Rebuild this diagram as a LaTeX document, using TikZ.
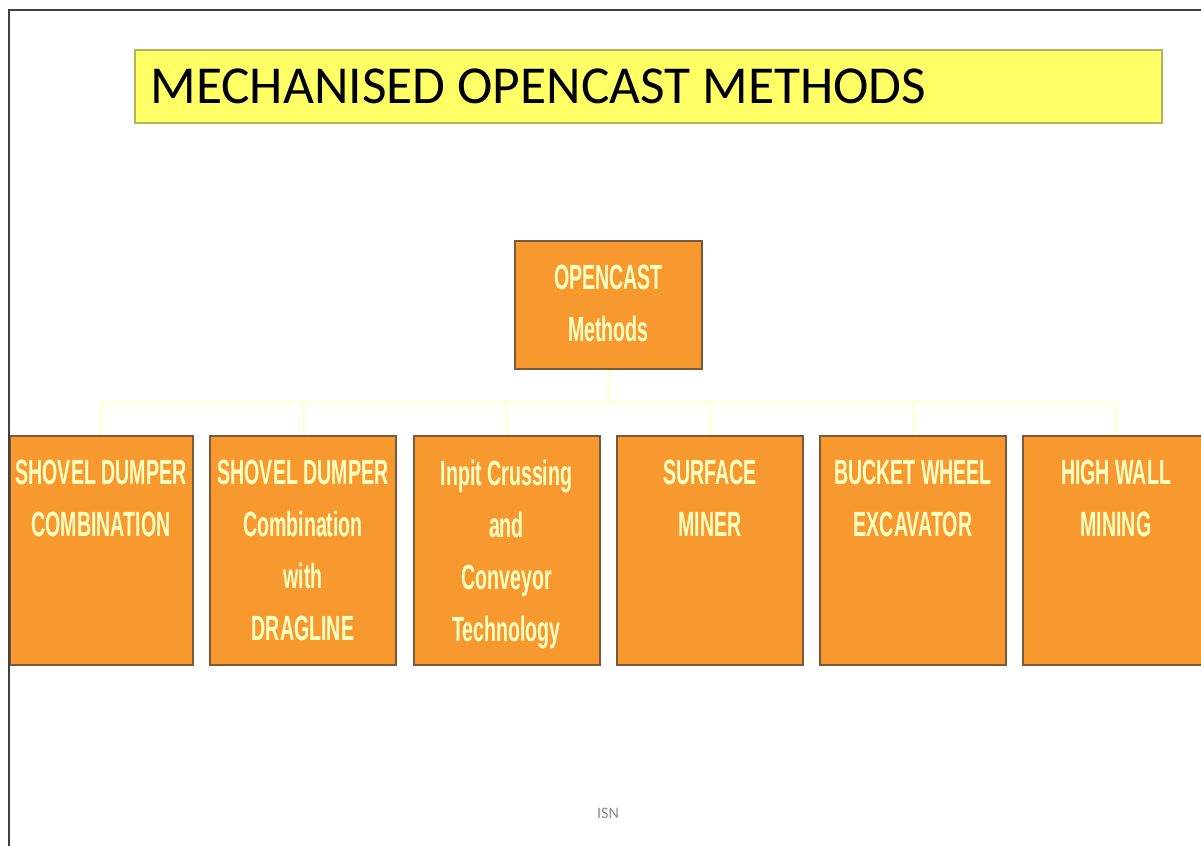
\documentclass[tikz,border=0pt]{standalone}
\usepackage{fontspec}
\setmainfont{Carlito}
\newfontfamily\boxfont[FakeStretch=0.56]{Liberation Sans}
\definecolor{framegray}{HTML}{404040}
\definecolor{titlefill}{HTML}{FFFF66}
\definecolor{titleedge}{HTML}{B4B45A}
\definecolor{boxfill}{HTML}{F7992F}
\definecolor{boxedge}{HTML}{7A5A3A}
\definecolor{boxtext}{HTML}{FFFFC4}
\definecolor{linkcol}{HTML}{FFFFDC}
\definecolor{notegray}{HTML}{8A8A8A}
\tikzset{
  titlebox/.style={draw=titleedge, fill=titlefill, line width=1pt,
    minimum width=513.5pt, minimum height=36.5pt, inner sep=0pt},
  titletext/.style={font=\fontsize{26.7}{31}\selectfont, text=black, inner sep=0pt},
  methodbox/.style={draw=boxedge, fill=boxfill, line width=1pt, inner sep=0pt},
  parentbox/.style={methodbox, minimum width=93.5pt, minimum height=64pt},
  childbox/.style={methodbox, minimum width=93pt, minimum height=114.5pt, anchor=north},
  boxlabel/.style={font={\boxfont\bfseries\fontsize{17.5}{26}\selectfont},
    text=boxtext, align=center, anchor=north, inner sep=0pt},
  link/.style={draw=linkcol, line width=1.5pt},
}
\begin{document}
\begin{tikzpicture}[x=0.5pt, y=-0.5pt]
\useasboundingbox (0,0) rectangle (1201,846);
\clip (0,0) rectangle (1201,846);
\fill[white] (0,0) rectangle (1201,846);

% heading
\node[titlebox] (title) at (648.5,86.5) {};
\node[titletext, anchor=base west] (titletxt) at (150,103) {MECHANISED OPENCAST METHODS};

% root of the tree
\node[parentbox] (root) at (608.5,305) {};
\node[boxlabel] (rootlbl) at (608.5,265) {OPENCAST\\Methods};

% the six methods
\node[childbox, minimum width=91.5pt] (c1) at (101.5,435) {};
\node[childbox] (c2) at (303,435) {};
\node[childbox] (c3) at (506.5,435) {};
\node[childbox] (c4) at (710,435) {};
\node[childbox] (c5) at (913,435) {};
\node[childbox] (c6) at (1116,435) {};

\node[boxlabel] (l1) at (101,460) {SHOVEL DUMPER\\COMBINATION};
\node[boxlabel] (l2) at (303,460) {SHOVEL DUMPER\\Combination\\with\\DRAGLINE};
\node[boxlabel] (l3) at (506.5,460) {Inpit Crussing\\and\\Conveyor\\Technology};
\node[boxlabel] (l4) at (710,460) {SURFACE\\MINER};
\node[boxlabel] (l5) at (913,460) {BUCKET WHEEL\\EXCAVATOR};
\node[boxlabel] (l6) at (1116,460) {HIGH WALL\\MINING};

% connectors
\coordinate (bus) at (608.5,402);
\foreach \c in {c1,c2,c3,c4,c5,c6}
  \draw[link] (root.south) -- (root.south |- bus) -| (\c.north);

% slide frame
\draw[framegray, line width=1pt] (9,846) -- (9,10) -- (1201,10);

% footer
\node[text=notegray, font=\fontsize{8}{9}\selectfont, inner sep=0pt] (isn) at (608,813) {ISN};
\end{tikzpicture}
\end{document}
